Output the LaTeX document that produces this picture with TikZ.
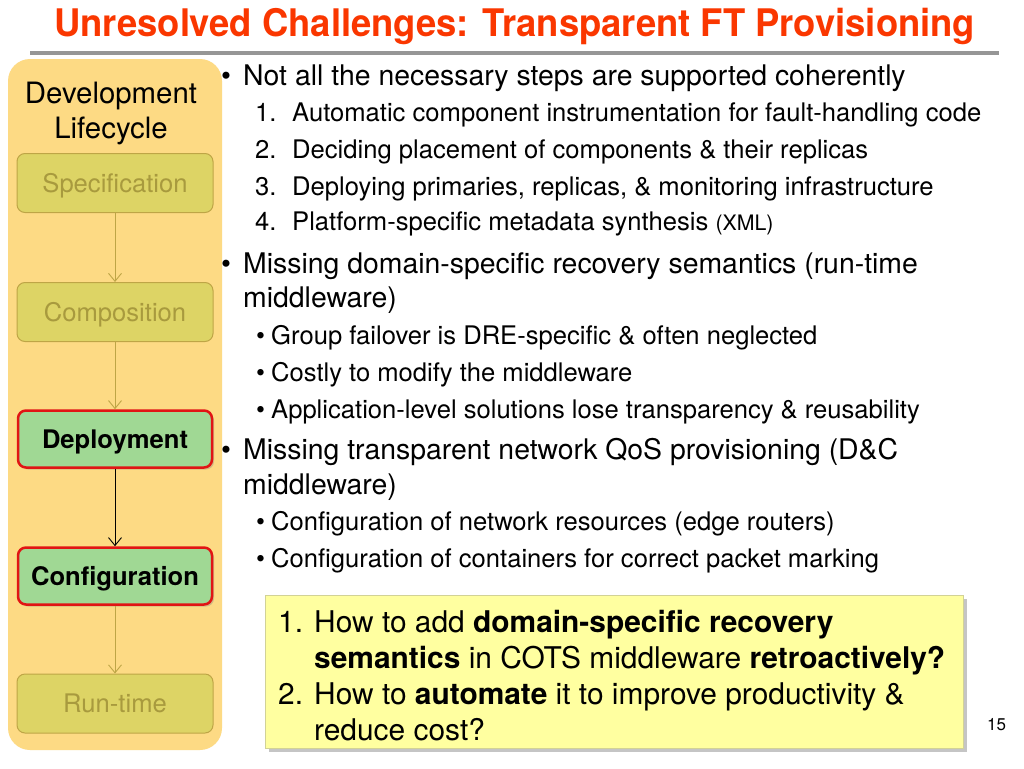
\documentclass[tikz,border=0pt]{standalone}
\usepackage{fontspec}
\setmainfont{TeX Gyre Heros}
\usepackage{graphicx}
\usetikzlibrary{shadows,arrows.meta}
\definecolor{titlered}{RGB}{250,55,0}
\definecolor{rulegray}{RGB}{150,150,150}
\definecolor{panelfill}{RGB}{253,218,132}
\definecolor{olivefill}{RGB}{221,212,101}
\definecolor{olivebd}{RGB}{190,165,70}
\definecolor{olivetext}{RGB}{168,154,62}
\definecolor{greenfill}{RGB}{160,216,148}
\definecolor{redbd}{RGB}{225,20,20}
\definecolor{notefill}{RGB}{255,255,160}
\definecolor{notebd}{RGB}{210,210,150}
\newcommand\fTitle{\fontsize{38pt}{42pt}\selectfont\bfseries}
\newcommand\fMain{\fontsize{28.4pt}{34pt}\selectfont}
\newcommand\fPanel{\fontsize{29.4pt}{34pt}\selectfont}
\newcommand\fNote{\fontsize{29.9pt}{35pt}\selectfont}
\newcommand\fSub{\fontsize{25.6pt}{30pt}\selectfont}
\newcommand\fSmall{\fontsize{21.3pt}{25pt}\selectfont}
\newcommand\fStage{\fontsize{25.6pt}{30pt}\selectfont}
\newcommand\fPage{\fontsize{17pt}{20pt}\selectfont}
\tikzset{
  txt/.style={anchor=base west, inner sep=0pt, text=black},
  stagebox/.style={draw=olivebd, fill=olivefill, rounded corners=8pt, minimum width=196pt, minimum height=59pt, text=olivetext, font=\fStage, line width=1pt, inner sep=0pt, text height=18pt, text depth=0pt},
  activebox/.style={draw=redbd, fill=greenfill, rounded corners=8pt, minimum width=194pt, minimum height=57pt, text=black, font=\fStage\bfseries, line width=2.5pt, inner sep=0pt, text height=18pt, text depth=0pt, drop shadow={shadow xshift=2pt, shadow yshift=-2pt, opacity=0.35}},
  flow/.style={-{Straight Barb[length=8pt,width=13pt]}, draw=olivebd, line width=0.9pt},
  flowdark/.style={-{Straight Barb[length=8pt,width=13pt]}, draw=black, line width=0.9pt},
}
\begin{document}
\begin{tikzpicture}[x=1pt,y=-1pt]
\useasboundingbox (0,0) rectangle (1024,768);
\fill[white] (0,0) rectangle (1024,768);
% title
\node[txt, text=titlered] (title) at (54,37) {\fTitle\resizebox{921pt}{\height}{Unresolved Challenges: Transparent FT Provisioning}};
\fill[rulegray] (30,51) rectangle (999,55);
% left panel
\fill[panelfill, rounded corners=22pt] (8,59) rectangle (222,750);
\node[anchor=base, inner sep=0pt, font=\fPanel] (dev) at (111,103) {Development};
\node[anchor=base, inner sep=0pt, font=\fPanel] (life) at (111,138) {Lifecycle};
\node[stagebox] (spec) at (115,183) {Specification};
\node[stagebox] (comp) at (115,312) {Composition};
\node[activebox] (depl) at (115,439) {Deployment};
\node[activebox] (conf) at (115,576) {Configuration};
\node[stagebox] (run) at (115,703.5) {Run-time};
\draw[flow] (spec.south) -- (comp.north);
\draw[flow] (comp.south) -- (depl.north);
\draw[flowdark] (depl.south) -- (conf.north);
\draw[flow] (conf.south) -- (run.north);
% bullets
\node[txt, font=\fMain] (b1) at (221,85) {\textbullet};
\node[txt, font=\fMain] (t1) at (243,85) {Not all the necessary steps are supported coherently};
\node[txt, font=\fSub] (n1) at (255,121) {1.};
\node[txt, font=\fSub] (s1) at (292,121) {Automatic component instrumentation for fault-handling code};
\node[txt, font=\fSub] (n2) at (255,158) {2.};
\node[txt, font=\fSub] (s2) at (292,158) {Deciding placement of components \& their replicas};
\node[txt, font=\fSub] (n3) at (255,195) {3.};
\node[txt, font=\fSub] (s3) at (292,195) {Deploying primaries, replicas, \& monitoring infrastructure};
\node[txt, font=\fSub] (n4) at (255,230) {4.};
\node[txt, font=\fSub] (s4) at (292,230) {Platform-specific metadata synthesis {\fSmall (XML)}};
\node[txt, font=\fMain] (b2) at (221,273) {\textbullet};
\node[txt, font=\fMain] (t2) at (243,273) {Missing domain-specific recovery semantics (run-time};
\node[txt, font=\fMain] (t2b) at (243,307) {middleware)};
\node[txt, font=\fSub] (d1) at (256,344) {\textbullet};
\node[txt, font=\fSub] (u1) at (271,344) {Group failover is DRE-specific \& often neglected};
\node[txt, font=\fSub] (d2) at (256,381) {\textbullet};
\node[txt, font=\fSub] (u2) at (271,381) {Costly to modify the middleware};
\node[txt, font=\fSub] (d3) at (256,418) {\textbullet};
\node[txt, font=\fSub] (u3) at (271,418) {Application-level solutions lose transparency \& reusability};
\node[txt, font=\fMain] (b3) at (221,459) {\textbullet};
\node[txt, font=\fMain] (t3) at (243,459) {Missing transparent network QoS provisioning (D\&C};
\node[txt, font=\fMain] (t3b) at (243,494) {middleware)};
\node[txt, font=\fSub] (d4) at (256,530) {\textbullet};
\node[txt, font=\fSub] (u4) at (271,530) {Configuration of network resources (edge routers)};
\node[txt, font=\fSub] (d5) at (256,567) {\textbullet};
\node[txt, font=\fSub] (u5) at (271,567) {Configuration of containers for correct packet marking};
% note box
\path[fill=notefill, draw=notebd, line width=0.6pt, drop shadow={shadow xshift=4pt, shadow yshift=-4pt, opacity=0.45}] (265,595) rectangle (963,748);
\node[txt, font=\fNote] (q1n) at (278,632) {1.};
\node[txt, font=\fNote] (q1) at (314,632) {How to add \textbf{domain-specific recovery}};
\node[txt, font=\fNote] (q1b) at (314,668) {\textbf{semantics} in COTS middleware \textbf{retroactively?}};
\node[txt, font=\fNote] (q2n) at (278,704) {2.};
\node[txt, font=\fNote] (q2) at (314,704) {How to \textbf{automate} it to improve productivity \&};
\node[txt, font=\fNote] (q2b) at (314,740) {reduce cost?};
\node[txt, font=\fPage] (page) at (987,730) {15};
\end{tikzpicture}
\end{document}
